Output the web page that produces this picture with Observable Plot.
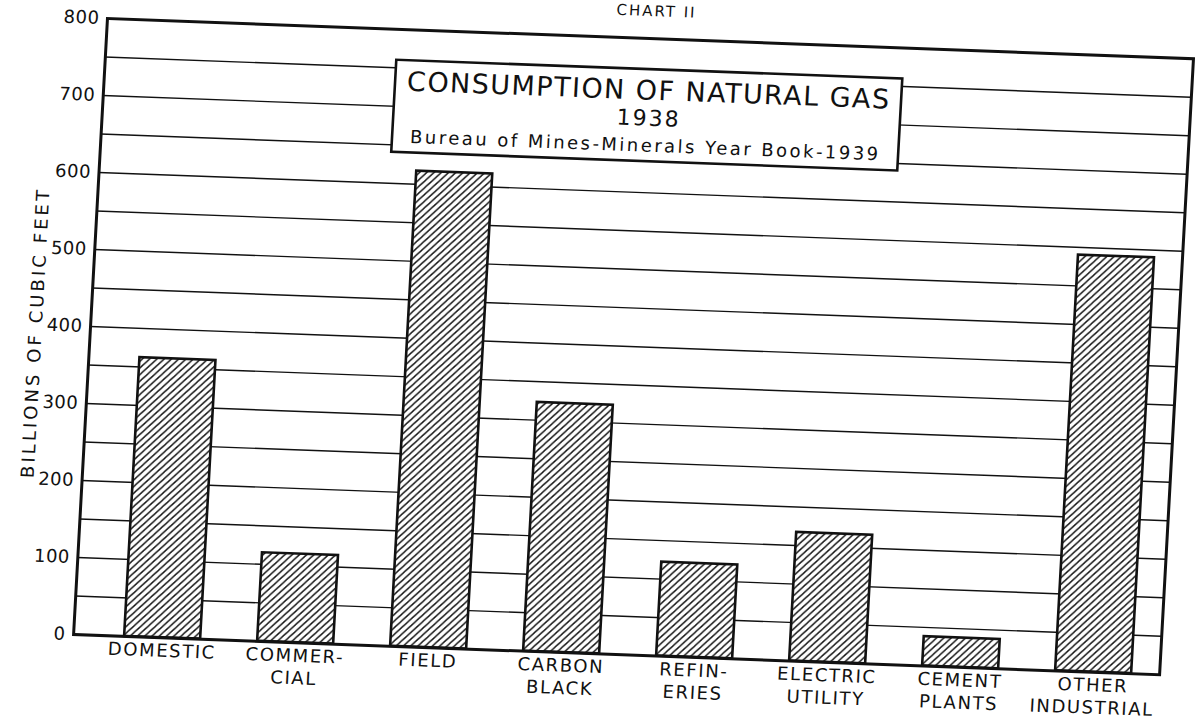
<!DOCTYPE html>
<html><head><meta charset="utf-8">
<script src="https://cdn.jsdelivr.net/npm/d3@7"></script>
<script src="https://cdn.jsdelivr.net/npm/@observablehq/plot@0.6"></script>
<style>
html,body{margin:0;padding:0;background:#fff;}
#chart{width:1195px;height:727px;overflow:hidden;}
g[aria-label="x-axis tick label"] text{letter-spacing:1.6px;}
g[aria-label="y-axis tick label"] text{letter-spacing:0.5px;}
</style></head><body><div id="chart"></div>
<script>
// ---- data ----
const categories = ["DOMESTIC","COMMERCIAL","FIELD","CARBON BLACK","REFINERIES","ELECTRIC UTILITY","CEMENT PLANTS","OTHER INDUSTRIAL"];
const tickLabels = ["DOMESTIC","COMMER-\nCIAL","FIELD","CARBON\nBLACK","REFIN-\nERIES","ELECTRIC\nUTILITY","CEMENT\nPLANTS","OTHER\nINDUSTRIAL"];
const values = [362, 115, 617, 323, 122, 167, 38, 540];
const yTicks = [0, 100, 200, 300, 400, 500, 600, 700, 800];
const gridValues = [50, 100, 150, 200, 250, 300, 350, 400, 450, 500, 550, 600, 650, 700, 750];
const titleText = "CONSUMPTION OF NATURAL GAS";
const yearText = "1938";
const sourceText = "Bureau of Mines-Minerals Year Book-1939";
const chartNumber = "CHART II";
const yLabel = "BILLIONS OF CUBIC FEET";

const data = categories.map((c, i) => ({category: c, value: values[i]}));
const ink = "#111";
const font = "'DejaVu Sans', sans-serif";

const svg = Plot.plot({
  width: 1195, height: 727,
  marginLeft: 107, marginRight: 2, marginTop: 18, marginBottom: 93,
  style: {fontFamily: font, fontSize: "16px", color: ink, background: "#fff", overflow: "hidden"},
  x: {domain: categories, paddingInner: 0.425, paddingOuter: 0.268, align: 0.65, label: null},
  y: {domain: [0, 800], label: null},
  marks: [
    Plot.ruleY(gridValues, {stroke: ink, strokeWidth: 1.4}),
    Plot.barY(data, {x: "category", y: "value", fill: "url(#hatch)", stroke: ink, strokeWidth: 2.6, insetLeft: 0, insetRight: 0}),
    Plot.frame({stroke: ink, strokeWidth: 3}),
    Plot.axisY({ticks: yTicks, tickSize: 0, tickPadding: 8, fontSize: 18, label: null}),
    Plot.axisX({tickSize: 0, tickPadding: 3, fontSize: 18, lineHeight: 1.25,
      tickFormat: d => tickLabels[categories.indexOf(d)], label: null})
  ]
});

const NS = "http://www.w3.org/2000/svg";
function el(name, attrs, parent) {
  const e = document.createElementNS(NS, name);
  for (const k in attrs) e.setAttribute(k, attrs[k]);
  if (parent) parent.appendChild(e);
  return e;
}

// hatch pattern
const defs = el("defs", {});
svg.insertBefore(defs, svg.firstChild);
const pat = el("pattern", {id: "hatch", patternUnits: "userSpaceOnUse", width: 7, height: 7}, defs);
el("rect", {width: 7, height: 7, fill: "#fff"}, pat);
el("path", {d: "M-1,1 L1,-1 M0,7 L7,0 M6,8 L8,6", stroke: ink, "stroke-width": 1.4, fill: "none"}, pat);

// tilt everything like the scanned sheet
const g = el("g", {transform: "matrix(1,0.037,-0.055,1,0.99,-3.96)"});
while (svg.childNodes.length > 1) g.appendChild(svg.childNodes[1]);
svg.appendChild(g);

// y-axis title
el("text", {x: 0, y: 0, transform: "translate(54,336) rotate(-90)", "text-anchor": "middle",
  "dominant-baseline": "middle", "font-size": 18, "font-family": font, fill: ink,
  textLength: 288, lengthAdjust: "spacing"}, g).textContent = yLabel;

// chart number at the top of the sheet
el("text", {x: 655, y: -4, "text-anchor": "middle", "font-size": 15, "font-family": font, fill: ink,
  "letter-spacing": "2px"}, g).textContent = chartNumber;

// title box
el("rect", {x: 398, y: 49, width: 506, height: 92, fill: "#fff", stroke: ink, "stroke-width": 2.6}, g);
el("text", {x: 651, y: 70, "text-anchor": "middle", "dominant-baseline": "central", "font-size": 27,
  "font-family": font, fill: ink, textLength: 482, lengthAdjust: "spacing"}, g).textContent = titleText;
el("text", {x: 653, y: 98, "text-anchor": "middle", "dominant-baseline": "central", "font-size": 22,
  "font-family": font, fill: ink, "letter-spacing": "2px"}, g).textContent = yearText;
el("text", {x: 650, y: 125, "text-anchor": "middle", "dominant-baseline": "central", "font-size": 18,
  "font-family": font, fill: ink, textLength: 468, lengthAdjust: "spacing"}, g).textContent = sourceText;

document.getElementById("chart").appendChild(svg);
</script></body></html>
